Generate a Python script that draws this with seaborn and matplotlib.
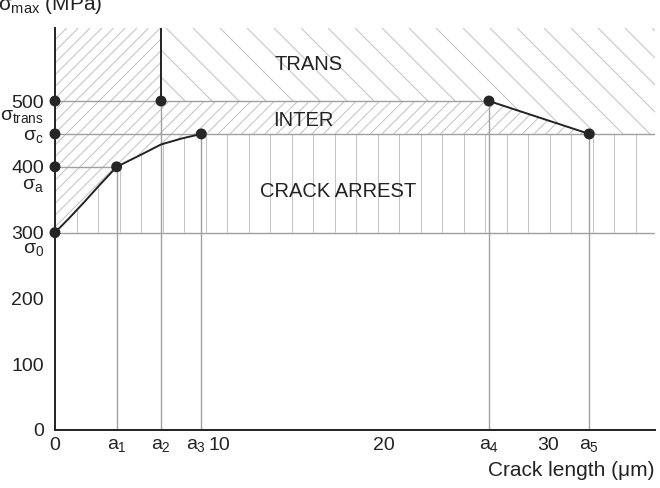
import matplotlib
matplotlib.use("Agg")
import matplotlib.pyplot as plt
from matplotlib.collections import LineCollection
from matplotlib.patches import Polygon
from matplotlib.transforms import ScaledTranslation
import numpy as np
import seaborn as sns

# characteristic crack lengths (um)
A1, A2, A3, A4, A5 = 3.75, 6.45, 8.9, 26.4, 32.5
# stress levels (MPa)
SIGMA_0, SIGMA_A, SIGMA_C, SIGMA_TRANS = 300, 400, 450, 500
X_MAX, Y_MAX = 36.5, 611

# growth curve sigma_0 -> sigma_a -> sigma_c
curve_x = [0, 0.9, 1.8, 2.7, A1, 5.2, A2, 7.7, A3]
curve_y = [300, 323, 347, 372, 400, 418, 434, 443, 450]

# marked points
dot_x = [0, 0, 0, 0, A1, A2, A3, A4, A5]
dot_y = [SIGMA_0, SIGMA_A, SIGMA_C, SIGMA_TRANS, SIGMA_A, SIGMA_TRANS, SIGMA_C, SIGMA_TRANS, SIGMA_C]

x_ticks = [0, A1, A2, A3, 10, 20, A4, 30, A5]
x_tick_labels = ["0", "$a_1$", "$a_2$", "$a_3$", "10", "20", "$a_4$", "30", "$a_5$"]
y_ticks = [0, 100, 200, 300, 400, SIGMA_C, 500]
y_tick_labels = ["0", "100", "200", "300", "400", r"$\sigma_c$", "500"]

TEXT = "#232323"
REF = "#a0a0a0"
HATCH = "#c4c4c4"

sns.set_style("white")
plt.rcParams["font.family"] = ["Liberation Sans", "DejaVu Sans"]
plt.rcParams["mathtext.fontset"] = "custom"
plt.rcParams["mathtext.rm"] = "Liberation Sans"
plt.rcParams["mathtext.it"] = "Liberation Sans"
plt.rcParams["mathtext.bf"] = "Liberation Sans:bold"

fig = plt.figure(figsize=(6.6, 4.88), dpi=100)
ax = fig.add_axes([55 / 660, 58 / 488, 600 / 660, 402 / 488])


def hatch(ax, verts, kind, spacing, color=HATCH, lw=0.75):
    patch = Polygon(verts, closed=True, fill=False, edgecolor="none")
    ax.add_patch(patch)
    w = ax.get_position().width * fig.get_figwidth() * fig.dpi
    h = ax.get_position().height * fig.get_figheight() * fig.dpi
    r = h / w
    step = spacing / w
    if kind == "|":
        segs = [[(u, 0), (u, 1)] for u in np.arange(step, 1, step)]
    elif kind == "/":
        segs = [[(u, 0), (u + r, 1)] for u in np.arange(-r, 1, step)]
    else:
        segs = [[(u, 1), (u + r, 0)] for u in np.arange(-r, 1, step)]
    lc = LineCollection(segs, transform=ax.transAxes, colors=color, linewidths=lw)
    ax.add_collection(lc, autolim=False)
    lc.set_clip_path(patch)


curve_pts = list(zip(curve_x, curve_y))

# crack arrest region (vertical hatch)
hatch(ax, curve_pts + [(X_MAX, SIGMA_C), (X_MAX, SIGMA_0)], "|", 21.5)
# intermediate region (fine forward hatch)
inter = [(0, SIGMA_0), (0, Y_MAX), (A2, Y_MAX), (A2, SIGMA_TRANS), (A4, SIGMA_TRANS),
         (A5, SIGMA_C)] + curve_pts[::-1]
hatch(ax, inter, "/", 11.7)
# transgranular region (coarse backward hatch)
trans = [(A2, Y_MAX), (X_MAX, Y_MAX), (X_MAX, SIGMA_C), (A5, SIGMA_C),
         (A4, SIGMA_TRANS), (A2, SIGMA_TRANS)]
hatch(ax, trans, "\\", 27)

# reference lines
ax.hlines([SIGMA_0, SIGMA_C], 0, X_MAX, color=REF, lw=1.0)
ax.hlines(SIGMA_A, 0, A1, color=REF, lw=1.0)
ax.hlines(SIGMA_TRANS, 0, A4, color=REF, lw=1.0)
ax.vlines([A1, A3, A5], 0, [SIGMA_A, SIGMA_C, SIGMA_C], color=REF, lw=1.0)
ax.vlines([A2, A4], 0, SIGMA_TRANS, color=REF, lw=1.0)
ax.vlines(A2, SIGMA_TRANS, Y_MAX, color="#222222", lw=1.4)

# curves and points
sns.lineplot(x=curve_x, y=curve_y, sort=False, color="#222222", lw=1.4, ax=ax)
sns.lineplot(x=[A4, A5], y=[SIGMA_TRANS, SIGMA_C], sort=False, color="#222222", lw=1.4, ax=ax)
sns.scatterplot(x=dot_x, y=dot_y, s=62, color="#262626", edgecolor="none", zorder=5,
                clip_on=False, ax=ax)

# region names
ax.text(15.4, 555, "TRANS", ha="center", va="center", fontsize=14.5, color=TEXT)
ax.text(15.1, 471, "INTER", ha="center", va="center", fontsize=14.5, color=TEXT)
ax.text(17.2, 362, "CRACK ARREST", ha="center", va="center", fontsize=14.5, color=TEXT)

ax.set_xlim(0, X_MAX)
ax.set_ylim(0, Y_MAX)

ax.set_xticks(x_ticks, x_tick_labels)
ax.set_yticks(y_ticks, y_tick_labels)
ax.tick_params(axis="x", direction="in", length=6, width=1, color=REF, pad=5,
               labelsize=14, labelcolor=TEXT)
ax.tick_params(axis="y", direction="in", length=4, width=1, color=REF, pad=8,
               labelsize=14, labelcolor=TEXT)
for tick, value in zip(ax.xaxis.get_major_ticks(), x_ticks):
    if value not in (10, 20, 30):
        tick.tick1line.set_visible(False)
    if value == A3:
        lab = tick.label1
        lab.set_transform(lab.get_transform() + ScaledTranslation(-5 / 100, 0, fig.dpi_scale_trans))

# sigma names under the numeric tick labels
for y, label in [(476, r"$\sigma_{trans}$"), (372, r"$\sigma_a$"), (275, r"$\sigma_0$")]:
    ax.annotate(label, xy=(0, y), xycoords=("axes fraction", "data"), xytext=(-8, 0),
                textcoords="offset points", ha="right", va="center", fontsize=14,
                color=TEXT, annotation_clip=False)

for side in ["top", "right"]:
    ax.spines[side].set_visible(False)
for side in ["left", "bottom"]:
    ax.spines[side].set_color("#222222")
    ax.spines[side].set_linewidth(1.4)

fig.text(102 / 660, 1 - 5 / 488, r"$\sigma_{max}$ (MPa)", ha="right", va="center",
         fontsize=15, color=TEXT)
fig.text(655 / 660, 1 - 470 / 488, "Crack length (\u03bcm)", ha="right", va="center",
         fontsize=15, color=TEXT)

fig.savefig("out.png", dpi=100)
